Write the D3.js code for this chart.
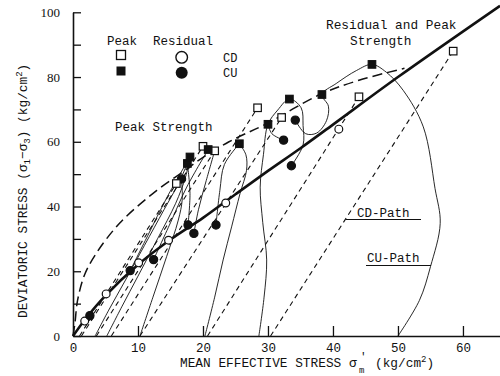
<!DOCTYPE html>
<html><head><meta charset="utf-8">
<script src="https://cdn.jsdelivr.net/npm/d3@7"></script>
<style>
body{margin:0;background:#fff}
svg{display:block}
text{font-family:"Liberation Mono","DejaVu Sans Mono",monospace;fill:#111}
</style>
</head><body>
<svg id="c" width="500" height="376"></svg>
<script>
// ---- data ----
const xTicks = [0,10,20,30,40,50,60];
const yTicks = [0,10,20,30,40,50,60,70,80,90,100];
const yLabels = [0,20,40,60,80,100];

// Residual and peak strength line (thick)
const failureLine = [[0,0],[2,5.5],[5,12.5],[10,22],[15,29.8],[20,36.5],[25,43.8],[30,51],[35,58],[40,65.3],[50,80],[65.7,102]];
// Peak strength envelope (long dashes)
const peakEnvelope = [[0,0],[0.3,4],[0.7,11],[1.8,19],[3.6,25.6],[7.2,34.9],[12.9,45],[16.9,50.7],[19.5,54.5],[24,60],[29.8,65.6],[38,74.6],[44,79],[51,82.7]];
// CD paths (dashed straight lines)
const cdPaths = [
  [[1.0,0],[15.9,47.1]],
  [[1.3,0],[20,58.6]],
  [[3.6,0],[21.8,57.2]],
  [[5.9,0],[28.4,70.5]],
  [[10.3,0],[32.1,67.5]],
  [[20.7,0],[44,73.9]],
  [[30.4,0],[58.5,88]]
];
// CU paths (thin solid curves)
const cuPaths = [
  [[3.4,0],[5.5,8],[8,17],[11,28],[14,39],[16.2,47],[17.6,53.3]],
  [[5.2,0],[7.5,9],[10,18.5],[13,30],[15.8,41],[17.3,49],[18,55.3]],
  [[10.3,0],[12.3,12],[14.4,24.5],[16.2,35.8],[16.8,42],[16.7,48.5]],
  [[20.3,0],[21.8,12],[23.1,23.5],[24.4,33.7],[25.7,44],[26.7,51.2],[26.6,56],[25.6,59.4]],
  [[28.6,0],[29.4,12],[29.8,23.5],[29.2,35],[28.8,46],[29.3,56],[30,65.4],[31.5,69.8],[33.3,73.2],[35.1,70.5],[35.4,65],[35.4,59],[33.6,52.6]],
  [[50,0],[53.3,11],[55,21.4],[56.5,34.8],[55.7,45.6],[53.9,64.6],[50.8,75.9],[48.2,81.5],[46,83.9],[43.6,82],[40.5,78],[38.3,74.6],[39.3,71],[39,66.5],[37.5,62.7],[35.8,62.5],[34.2,66.7]]
];
// post-peak CU curves
const postPeak = [
  [[18,55.3],[14.5,43],[11.5,31],[8.8,20.2]],
  [[20.8,57.6],[17.5,46],[15,35],[12.4,23.6]],
  [[17.6,53.3],[18,44],[17.7,34.3]],
  [[21.8,57.2],[20.5,48],[19.3,39],[18.6,31.7]],
  [[25.6,59.4],[23.3,53],[22.6,45],[22,34.3]],
  [[30,65.4],[30.6,62.5],[32.4,60.5]]
];
// markers
const cdPeak = [[15.9,47.1],[20,58.6],[21.8,57.2],[28.4,70.5],[32.1,67.5],[44,73.9],[58.5,88]];
const cuPeak = [[17.6,53.3],[18,55.3],[20.8,57.6],[25.6,59.4],[30,65.4],[33.3,73.2],[38.3,74.6],[46,83.9]];
const cdResidual = [[1.8,4.6],[5.1,13],[10.1,22.6],[14.7,29.6],[23.5,41.1],[40.9,63.9]];
const cuResidual = [[2.6,6.3],[8.8,20.2],[12.4,23.6],[16.7,48.5],[17.7,34.3],[18.6,31.7],[22,34.3],[32.4,60.5],[33.6,52.6],[34.2,66.7]];

// ---- drawing ----
const svg = d3.select("#c");
svg.append("rect").attr("width",500).attr("height",376).attr("fill","#fff");
const x = d3.scaleLinear().domain([0,65.7]).range([73,500]);
const y = d3.scaleLinear().domain([0,100]).range([336,12.3]);
const ink = "#111";

// axes
const gy = svg.append("g").attr("transform","translate(73,0)")
  .call(d3.axisLeft(y).tickValues(yTicks).tickSize(-8).tickSizeOuter(0).tickPadding(13)
    .tickFormat(d => yLabels.includes(d) ? d : ""));
gy.selectAll("text").style("font-family","'Liberation Serif',serif").style("font-size","13px");
const gx = svg.append("g").attr("transform","translate(0,336)")
  .call(d3.axisBottom(x).tickValues(xTicks).tickSize(-10).tickSizeOuter(0).tickPadding(7));
gx.selectAll("text").style("font-size","12.5px");
svg.selectAll(".domain").attr("stroke",ink).attr("stroke-width",1.6);
svg.selectAll(".tick line").attr("stroke",ink).attr("stroke-width",1.3);
gx.selectAll(".tick").filter(d=>d===0).select("line").remove();

const line = d3.line().x(d=>x(d[0])).y(d=>y(d[1]));
const curve = d3.line().x(d=>x(d[0])).y(d=>y(d[1])).curve(d3.curveCatmullRom.alpha(0.5));

const plot = svg.append("g");
cdPaths.forEach(p => plot.append("path").attr("d",line(p)).attr("fill","none")
  .attr("stroke",ink).attr("stroke-width",1.1).attr("stroke-dasharray","5,4"));
cuPaths.forEach(p => plot.append("path").attr("d",curve(p)).attr("fill","none")
  .attr("stroke",ink).attr("stroke-width",0.9));
postPeak.forEach(p => plot.append("path").attr("d",curve(p)).attr("fill","none")
  .attr("stroke",ink).attr("stroke-width",0.9));
plot.append("path").attr("d",curve(peakEnvelope)).attr("fill","none")
  .attr("stroke",ink).attr("stroke-width",1.5).attr("stroke-dasharray","10,5");
plot.append("path").attr("d",curve(failureLine)).attr("fill","none")
  .attr("stroke",ink).attr("stroke-width",2.6);

function squares(g, data, filled, s){
  g.selectAll(null).data(data).enter().append("rect")
    .attr("x",d=>x(d[0])-s/2).attr("y",d=>y(d[1])-s/2).attr("width",s).attr("height",s)
    .attr("fill",filled?ink:"#fff").attr("stroke",ink).attr("stroke-width",1.2);
}
function circles(g, data, filled, r){
  g.selectAll(null).data(data).enter().append("circle")
    .attr("cx",d=>x(d[0])).attr("cy",d=>y(d[1])).attr("r",r)
    .attr("fill",filled?ink:"#fff").attr("stroke",ink).attr("stroke-width",1.2);
}
circles(plot, cdResidual, false, 3.9);
circles(plot, cuResidual, true, 4.1);
squares(plot, cdPeak, false, 7.5);
squares(plot, cuPeak, true, 7.5);

// legend
svg.append("text").attr("x",107).attr("y",45).style("font-size","12.5px").text("Peak");
svg.append("text").attr("x",153).attr("y",45).style("font-size","12.5px").text("Residual");
svg.append("rect").attr("x",116.5).attr("y",50.5).attr("width",9).attr("height",9).attr("fill","#fff").attr("stroke",ink).attr("stroke-width",1.3);
svg.append("rect").attr("x",116.5).attr("y",66.5).attr("width",9).attr("height",9).attr("fill",ink);
svg.append("circle").attr("cx",181.7).attr("cy",57.3).attr("r",5.8).attr("fill","#fff").attr("stroke",ink).attr("stroke-width",1.4);
svg.append("circle").attr("cx",181.7).attr("cy",72.7).attr("r",6).attr("fill",ink);
svg.append("text").attr("x",223).attr("y",62).style("font-size","12px").text("CD");
svg.append("text").attr("x",223).attr("y",77).style("font-size","12px").text("CU");

// annotations
svg.append("text").attr("x",115).attr("y",131).style("font-size","12.5px").text("Peak Strength");
svg.append("text").attr("x",326).attr("y",29).style("font-size","12.8px").text("Residual and Peak");
svg.append("text").attr("x",350).attr("y",45).style("font-size","12.8px").text("Strength");
svg.append("text").attr("x",357).attr("y",217).style("font-size","12.5px").text("CD-Path");
svg.append("path").attr("d","M346,219.5 L350,219.5 L421,219.5").attr("stroke",ink).attr("stroke-width",1).attr("fill","none");
svg.append("text").attr("x",367).attr("y",262).style("font-size","12.5px").text("CU-Path");
svg.append("path").attr("d","M366,265.5 L431,265.5").attr("stroke",ink).attr("stroke-width",1).attr("fill","none");

// axis titles
const xt = svg.append("text").attr("x",180).attr("y",367).style("font-size","12.8px");
xt.text("MEAN EFFECTIVE STRESS");
svg.append("text").attr("x",349).attr("y",367).style("font-size","13px").text("σ");
svg.append("text").attr("x",360).attr("y",360).style("font-size","11px").text("'");
svg.append("text").attr("x",359).attr("y",373).style("font-size","9px").text("m");
const u = svg.append("text").attr("x",375).attr("y",367).style("font-size","12.8px");
u.append("tspan").text("(kg/cm");
u.append("tspan").attr("dy",-5).style("font-size","9px").text("2");
u.append("tspan").attr("dy",5).text(")");

const yt = svg.append("text").attr("transform","translate(27,318) rotate(-90)").style("font-size","12.8px");
yt.append("tspan").text("DEVIATORIC STRESS (σ");
yt.append("tspan").attr("dy",3).style("font-size","9px").text("1");
yt.append("tspan").attr("dy",-3).text("−σ");
yt.append("tspan").attr("dy",3).style("font-size","9px").text("3");
yt.append("tspan").attr("dy",-3).text(") (kg/cm");
yt.append("tspan").attr("dy",-5).style("font-size","9px").text("2");
yt.append("tspan").attr("dy",5).text(")");
</script>
</body></html>
